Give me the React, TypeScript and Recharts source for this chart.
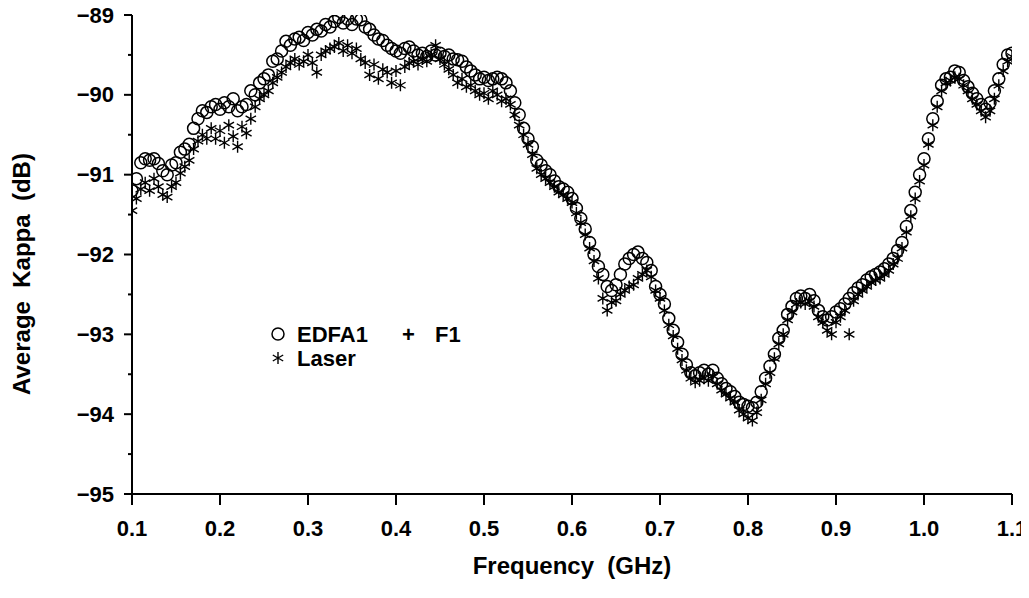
import { ScatterChart, Scatter, XAxis, YAxis } from 'recharts';

// frequency grid (GHz) the kappa values were read at
const FREQ = [
  0.1, 0.105, 0.11, 0.115, 0.12, 0.125, 0.13, 0.135, 0.14, 0.145,
  0.15, 0.155, 0.16, 0.165, 0.17, 0.175, 0.18, 0.185, 0.19, 0.195,
  0.2, 0.205, 0.21, 0.215, 0.22, 0.225, 0.23, 0.235, 0.24, 0.245,
  0.25, 0.255, 0.26, 0.265, 0.27, 0.275, 0.28, 0.285, 0.29, 0.295,
  0.3, 0.305, 0.31, 0.315, 0.32, 0.325, 0.33, 0.335, 0.34, 0.345,
  0.35, 0.355, 0.36, 0.365, 0.37, 0.375, 0.38, 0.385, 0.39, 0.395,
  0.4, 0.405, 0.41, 0.415, 0.42, 0.425, 0.43, 0.435, 0.44, 0.445,
  0.45, 0.455, 0.46, 0.465, 0.47, 0.475, 0.48, 0.485, 0.49, 0.495,
  0.5, 0.505, 0.51, 0.515, 0.52, 0.525, 0.53, 0.535, 0.54, 0.545,
  0.55, 0.555, 0.56, 0.565, 0.57, 0.575, 0.58, 0.585, 0.59, 0.595,
  0.6, 0.605, 0.61, 0.615, 0.62, 0.625, 0.63, 0.635, 0.64, 0.645,
  0.65, 0.655, 0.66, 0.665, 0.67, 0.675, 0.68, 0.685, 0.69, 0.695,
  0.7, 0.705, 0.71, 0.715, 0.72, 0.725, 0.73, 0.735, 0.74, 0.745,
  0.75, 0.755, 0.76, 0.765, 0.77, 0.775, 0.78, 0.785, 0.79, 0.795,
  0.8, 0.805, 0.81, 0.815, 0.82, 0.825, 0.83, 0.835, 0.84, 0.845,
  0.85, 0.855, 0.86, 0.865, 0.87, 0.875, 0.88, 0.885, 0.89, 0.895,
  0.9, 0.905, 0.91, 0.915, 0.92, 0.925, 0.93, 0.935, 0.94, 0.945,
  0.95, 0.955, 0.96, 0.965, 0.97, 0.975, 0.98, 0.985, 0.99, 0.995,
  1.0, 1.005, 1.01, 1.015, 1.02, 1.025, 1.03, 1.035, 1.04, 1.045,
  1.05, 1.055, 1.06, 1.065, 1.07, 1.075, 1.08, 1.085, 1.09, 1.095,
  1.1,
];

// EDFA1 + F1 (circles), dB
const EDFA_KAPPA = [
  -91.2, -91.05, -90.85, -90.8, -90.82, -90.8, -90.86, -90.95, -91.0, -90.88,
  -90.85, -90.72, -90.68, -90.62, -90.42, -90.3, -90.2, -90.22, -90.15, -90.12,
  -90.18, -90.1, -90.15, -90.05, -90.2, -90.15, -90.12, -89.95, -90.0, -89.85,
  -89.8, -89.75, -89.58, -89.55, -89.45, -89.33, -89.38, -89.3, -89.28, -89.32,
  -89.22, -89.25, -89.18, -89.2, -89.12, -89.15, -89.08, -89.03, -89.1, -89.05,
  -89.12, -89.05, -89.06, -89.15, -89.18, -89.25, -89.3, -89.32, -89.38, -89.42,
  -89.45, -89.48, -89.42, -89.4, -89.45, -89.5, -89.48, -89.52, -89.45, -89.5,
  -89.48, -89.52, -89.5, -89.55, -89.56, -89.58, -89.65, -89.7, -89.75, -89.8,
  -89.78, -89.82, -89.8, -89.78, -89.8, -89.85, -89.95, -90.1, -90.25, -90.42,
  -90.55, -90.65, -90.82, -90.88, -90.95, -91.0, -91.08, -91.15, -91.18, -91.22,
  -91.3, -91.42, -91.55, -91.68, -91.85, -92.0, -92.15, -92.25, -92.4, -92.45,
  -92.38, -92.25, -92.12, -92.05, -92.0, -91.97, -92.05, -92.1, -92.2, -92.4,
  -92.5, -92.62, -92.8, -92.95, -93.1, -93.25, -93.38, -93.48, -93.52, -93.48,
  -93.45, -93.5, -93.45, -93.55, -93.62, -93.68, -93.72, -93.78, -93.85, -93.88,
  -93.9, -93.92, -93.85, -93.72, -93.55, -93.4, -93.25, -93.05, -92.95, -92.75,
  -92.65, -92.55, -92.52, -92.55, -92.5, -92.58, -92.7, -92.78, -92.82, -92.78,
  -92.72, -92.68, -92.62, -92.55, -92.48, -92.42, -92.38, -92.32, -92.28, -92.25,
  -92.22, -92.18, -92.12, -92.05, -91.95, -91.85, -91.65, -91.45, -91.22, -91.0,
  -90.8, -90.55, -90.3, -90.08, -89.88, -89.8, -89.78, -89.7, -89.72, -89.82,
  -89.9, -89.98, -90.05, -90.12, -90.18, -90.1, -89.95, -89.8, -89.62, -89.5,
  -89.48,
];

// Laser (asterisks), dB
const LASER_KAPPA = [
  -91.45, -91.3, -91.18, -91.1, -91.2, -91.05, -91.15, -91.25, -91.28, -91.15,
  -91.1, -90.98, -90.9, -90.82, -90.68, -90.58, -90.5, -90.55, -90.42, -90.55,
  -90.45, -90.6, -90.38, -90.52, -90.65, -90.4, -90.48, -90.3, -90.15, -90.05,
  -90.0, -89.95, -89.85, -89.78, -89.72, -89.65, -89.6, -89.55, -89.62, -89.58,
  -89.5, -89.6, -89.72, -89.5, -89.45, -89.42, -89.4, -89.35, -89.45, -89.38,
  -89.48, -89.42, -89.55, -89.6, -89.75, -89.62, -89.8, -89.68, -89.72, -89.85,
  -89.7, -89.88, -89.65, -89.6, -89.58, -89.62, -89.55, -89.58, -89.5, -89.38,
  -89.55, -89.62, -89.68, -89.75, -89.85, -89.8, -89.9, -89.88, -89.95, -90.0,
  -89.98, -90.05, -89.95, -90.0, -90.08, -90.05, -90.12, -90.25, -90.38, -90.5,
  -90.62, -90.75, -90.92, -91.0, -91.05, -91.1, -91.15, -91.22, -91.25, -91.3,
  -91.35, -91.48, -91.6, -91.75, -91.92, -92.08, -92.3, -92.55, -92.7, -92.6,
  -92.58, -92.5, -92.45, -92.4, -92.38, -92.3, -92.25, -92.2, -92.28, -92.45,
  -92.55, -92.7, -92.88, -93.02, -93.18, -93.32, -93.45, -93.55, -93.6, -93.58,
  -93.55, -93.58, -93.52, -93.62, -93.7, -93.75, -93.8, -93.85, -93.95, -94.0,
  -94.05, -94.08, -93.98, -93.82, -93.62, -93.48, -93.3, -93.12, -93.0, -92.82,
  -92.72, -92.62, -92.6, -92.62, -92.58, -92.65, -92.78, -92.85, -92.95, -93.0,
  -92.85, -92.78, -92.7, -93.0, -92.58, -92.5, -92.45, -92.4, -92.35, -92.32,
  -92.3, -92.25, -92.2, -92.12, -92.05, -91.92, -91.72, -91.52, -91.3, -91.08,
  -90.88, -90.62, -90.38, -90.15, -89.95, -89.85, -89.82, -89.78, -89.8, -89.88,
  -89.95, -90.05, -90.12, -90.2, -90.28, -90.2, -90.05, -89.88, -89.7, -89.58,
  -89.52,
];

const X_TICKS = [0.1, 0.2, 0.3, 0.4, 0.5, 0.6, 0.7, 0.8, 0.9, 1.0, 1.1];
const Y_TICKS = [-95, -94.5, -94, -93.5, -93, -92.5, -92, -91.5, -91, -90.5, -90, -89.5, -89];

const FONT = '"Liberation Sans", Arial, Helvetica, sans-serif';

const edfaData = FREQ.map((f, i) => ({ x: f, y: EDFA_KAPPA[i] }));
const laserData = FREQ.map((f, i) => ({ x: f, y: LASER_KAPPA[i] }));

function Ring({ cx, cy }: any) {
  return <circle cx={cx} cy={cy} r={6} fill="none" stroke="#000" strokeWidth={1.5} />;
}

function Star({ cx, cy }: any) {
  const a = 6;
  const dx = a * Math.cos(Math.PI / 6);
  const dy = a * Math.sin(Math.PI / 6);
  return (
    <path
      d={`M${cx},${cy - a}L${cx},${cy + a}M${cx - dx},${cy - dy}L${cx + dx},${cy + dy}M${cx - dx},${cy + dy}L${cx + dx},${cy - dy}`}
      stroke="#000"
      strokeWidth={1.4}
      fill="none"
    />
  );
}

function YTick({ x, y, payload }: any) {
  const major = Number.isInteger(payload.value);
  return (
    <g>
      <line x1={x - (major ? 8 : 4)} y1={y} x2={x} y2={y} stroke="#000" strokeWidth={2} />
      {major && (
        <text
          x={x - 18}
          y={y}
          textAnchor="end"
          dominantBaseline="central"
          fontFamily={FONT}
          fontWeight="bold"
          fontSize={22}
          fill="#000"
        >
          {'\u2212' + Math.abs(payload.value)}
        </text>
      )}
    </g>
  );
}

function XTick({ x, y, payload }: any) {
  return (
    <g>
      <line x1={x} y1={y} x2={x} y2={y + 11} stroke="#000" strokeWidth={2} />
      <text
        x={x}
        y={y + 34}
        textAnchor="middle"
        dominantBaseline="central"
        fontFamily={FONT}
        fontWeight="bold"
        fontSize={22}
        fill="#000"
      >
        {payload.value.toFixed(1)}
      </text>
    </g>
  );
}

const legendText = {
  fontFamily: FONT,
  fontWeight: 'bold' as const,
  fontSize: 22,
  dominantBaseline: 'central' as const,
};

export default function App() {
  return (
    // pulled over the body margin so chart pixels line up with the page
    <div style={{ position: 'relative', width: 1029, height: 598, margin: -8, fontFamily: FONT }}>
      <ScatterChart width={1029} height={598} margin={{ top: 15, right: 17, left: 0, bottom: 0 }}>
        <XAxis
          type="number"
          dataKey="x"
          domain={[0.1, 1.1]}
          ticks={X_TICKS}
          allowDataOverflow
          height={104}
          tickSize={0}
          tickMargin={0}
          tickLine={false}
          tick={<XTick />}
          axisLine={{ stroke: '#000', strokeWidth: 2 }}
          label={{
            value: 'Frequency\u00a0\u00a0(GHz)',
            position: 'insideBottom',
            offset: 24,
            fill: '#000',
            fontSize: 24,
            fontWeight: 'bold',
            fontFamily: FONT,
          }}
        />
        <YAxis
          type="number"
          dataKey="y"
          domain={[-95, -89]}
          ticks={Y_TICKS}
          allowDataOverflow
          width={132}
          tickSize={0}
          tickMargin={0}
          tickLine={false}
          tick={<YTick />}
          axisLine={{ stroke: '#000', strokeWidth: 2 }}
        />
        <Scatter data={edfaData} shape={<Ring />} isAnimationActive={false} />
        <Scatter data={laserData} shape={<Star />} isAnimationActive={false} />
      </ScatterChart>

      <div
        style={{
          position: 'absolute',
          left: 22,
          top: 274,
          transform: 'translate(-50%, -50%) rotate(-90deg)',
          whiteSpace: 'pre',
          fontSize: 24,
          fontWeight: 'bold',
          lineHeight: 1,
        }}
      >
        {'Average  Kappa  (dB)'}
      </div>

      <svg
        width={220}
        height={52}
        style={{ position: 'absolute', left: 268, top: 321, pointerEvents: 'none' }}
      >
        <Ring cx={10} cy={13} />
        <Star cx={10} cy={37} />
        <text x={29} y={13} {...legendText}>EDFA1</text>
        <text x={134} y={13} {...legendText}>+</text>
        <text x={167} y={13} {...legendText}>F1</text>
        <text x={29} y={37} {...legendText}>Laser</text>
      </svg>
    </div>
  );
}
